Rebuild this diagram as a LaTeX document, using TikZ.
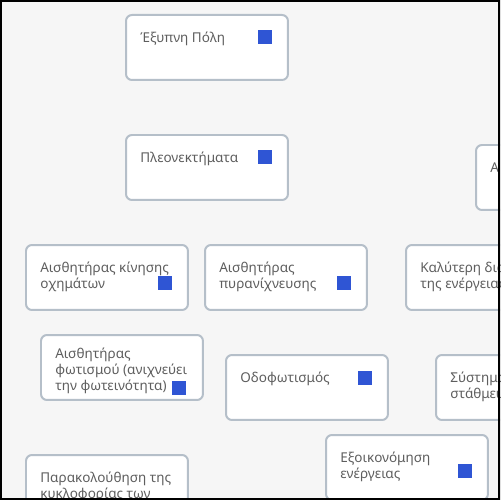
\documentclass[tikz,border=0pt]{standalone}
\usepackage{fontspec}
\setmainfont{Noto Sans}
\usepackage{xcolor}
\usepackage{tikz}

\definecolor{bgpage}{HTML}{F6F6F6}
\definecolor{cardline}{HTML}{B5BFC9}
\definecolor{textgray}{HTML}{5E5E5E}
\definecolor{badgeblue}{HTML}{2F55D4}

\begin{document}
\begin{tikzpicture}[
    x=0.02cm, y=-0.02cm,
    card/.style={rectangle, draw=cardline, line width=0.04cm, rounded corners=0.12cm, fill=white, minimum width=3.24cm, minimum height=1.3cm, anchor=north west, inner sep=0pt},
    cardtext/.style={anchor=north west, inner sep=0pt, align=left, text=textgray, font=\fontsize{7.7}{9}\selectfont},
    badge/.style={rectangle, fill=badgeblue, minimum size=0.28cm, inner sep=0pt}
]
\useasboundingbox (0,0) rectangle (500,500);
\fill[bgpage] (0,0) rectangle (500,500);
\clip (0,0) rectangle (500,500);

% cards
\node[card] (city) at (125,14) {};
\node[card] (adv) at (125,134) {};
\node[card] (rtop) at (475,144) {};
\node[card] (motion) at (25,244) {};
\node[card] (fire) at (204,244) {};
\node[card] (mgmt) at (405,244) {};
\node[card] (light) at (40,334) {};
\node[card] (street) at (225,354) {};
\node[card] (park) at (435,354) {};
\node[card] (save) at (325,434) {};
\node[card] (traffic) at (25,454) {};

% texts
\node[cardtext] (citytxt) at (140,32) {Έξυπνη Πόλη};
\node[cardtext] (advtxt) at (140,152) {Πλεονεκτήματα};
\node[cardtext] (rtoptxt) at (490,162) {Α};
\node[cardtext] (motiontxt) at (40,262) {Αισθητήρας κίνησης\\οχημάτων};
\node[cardtext] (firetxt) at (219,262) {Αισθητήρας\\πυρανίχνευσης};
\node[cardtext] (mgmttxt) at (420,262) {Καλύτερη διαχείριση\\της ενέργειας};
\node[cardtext] (lighttxt) at (55,348) {Αισθητήρας\\φωτισμού (ανιχνεύει\\την φωτεινότητα)};
\node[cardtext] (streettxt) at (240,372) {Οδοφωτισμός};
\node[cardtext] (parktxt) at (450,372) {Σύστημα\\στάθμευσης};
\node[cardtext] (savetxt) at (340,452) {Εξοικονόμηση\\ενέργειας};
\node[cardtext] (traffictxt) at (40,472) {Παρακολούθηση της\\κυκλοφορίας των};

% badges
\node[badge] (citybadge) at (265,37) {};
\node[badge] (advbadge) at (265,157) {};
\node[badge] (motionbadge) at (165,283) {};
\node[badge] (firebadge) at (344,283) {};
\node[badge] (lightbadge) at (179,388) {};
\node[badge] (streetbadge) at (365,378) {};
\node[badge] (savebadge) at (465,471) {};

% frame
\draw[line width=0.08cm] (0,0) rectangle (500,500);
\end{tikzpicture}
\end{document}
